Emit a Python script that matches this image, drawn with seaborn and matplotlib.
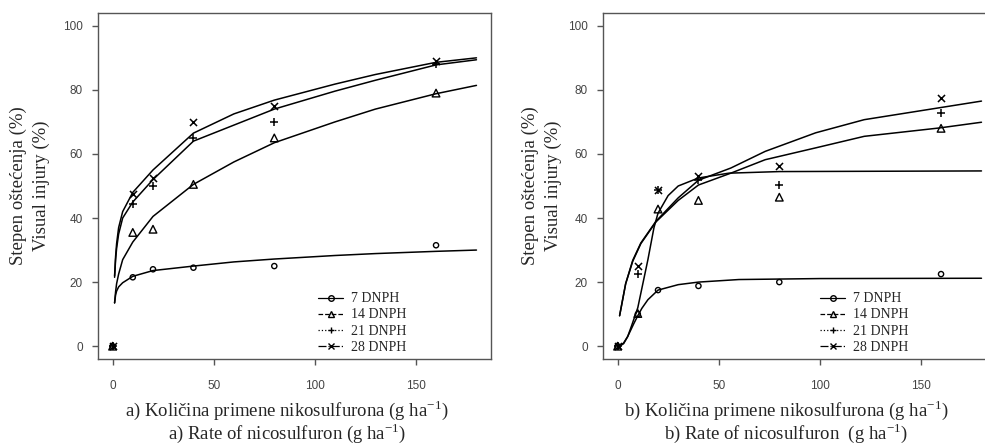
import seaborn as sns
import pandas as pd
import matplotlib.pyplot as plt
from matplotlib.lines import Line2D

sns.set_style('white')
plt.rcParams['font.family'] = ['Liberation Serif', 'DejaVu Serif']
plt.rcParams['mathtext.fontset'] = 'custom'
plt.rcParams['mathtext.rm'] = 'Liberation Serif'

groups = ['7 DNPH', '14 DNPH', '21 DNPH', '28 DNPH']
markers = {'7 DNPH': 'o', '14 DNPH': '^', '21 DNPH': '+', '28 DNPH': 'x'}
msize = {'7 DNPH': 14, '14 DNPH': 30, '21 DNPH': 36, '28 DNPH': 26}
lstyles = {'7 DNPH': '-', '14 DNPH': '--', '21 DNPH': ':', '28 DNPH': '-.'}

dose = [0, 10, 20, 40, 80, 160]

# panel a) observed injury (%)
a_7 = [0, 21.5, 24, 24.5, 25, 31.5]
a_14 = [0, 35.5, 36.5, 50.5, 65, 79]
a_21 = [0, 44.5, 50, 65, 70, 88]
a_28 = [0, 47.5, 52.5, 70, 75, 89]

# panel b) observed injury (%)
b_7 = [0, 10, 17.5, 18.8, 20, 22.5]
b_14 = [0, 10.2, 42.8, 45.5, 46.5, 68]
b_21 = [0, 22.5, 48.8, 52, 50.3, 72.8]
b_28 = [0, 25, 48.8, 53, 56.3, 77.5]

# fitted curves
a_cx = [1, 1.5, 2, 3, 5, 10, 20, 40, 60, 80, 110, 130, 160, 180]
a_c7 = [13.5, 16, 17.2, 18.5, 19.8, 21.8, 23.6, 25, 26.3, 27.2, 28.3, 28.9, 29.6, 30]
a_c14 = [13.5, 17, 19.5, 22.5, 27, 32.5, 40.5, 50.5, 57.5, 63.5, 70, 74, 78.8, 81.4]
a_c21 = [21.5, 27, 30.5, 35, 40, 45, 52, 64, 69, 74, 79.6, 83, 87.8, 89.4]
a_c28 = [22, 28, 32, 37, 42, 48, 55, 66.5, 72.5, 76.8, 81.8, 84.8, 88.6, 90]

b_cx7 = [1, 3, 5, 8, 10, 12, 15, 20, 30, 40, 60, 100, 180]
b_c7 = [0, 1, 3, 7, 9.5, 11.8, 14.5, 17.5, 19.2, 20, 20.8, 21.1, 21.2]
b_cx14 = [1, 3, 5, 7, 10, 12, 15, 18, 20, 25, 30, 40, 55, 80, 180]
b_c14 = [0, 0.8, 3, 6.5, 12, 18, 27, 37, 41.5, 47, 50, 52.5, 54, 54.5, 54.7]
b_cx = [1, 2.5, 4, 7.5, 11.5, 19, 30, 40, 56, 73, 98, 122, 159, 180]
b_c21 = [9.5, 14.5, 19.5, 26.5, 32, 38.8, 45.5, 50.3, 54, 58.2, 61.9, 65.5, 68.1, 69.9]
b_c28 = [9.5, 14.5, 19.5, 26.8, 32.2, 39, 46.3, 51.8, 55.6, 60.8, 66.6, 70.7, 74.4, 76.5]


def long_df(xs, ys):
    rows = []
    for g, x, y in zip(groups, xs, ys):
        rows.append(pd.DataFrame({'x': x, 'y': y, 'group': g}))
    return pd.concat(rows, ignore_index=True)


pts_a = long_df([dose] * 4, [a_7, a_14, a_21, a_28])
pts_b = long_df([dose] * 4, [b_7, b_14, b_21, b_28])
crv_a = long_df([a_cx] * 4, [a_c7, a_c14, a_c21, a_c28])
crv_b = long_df([b_cx7, b_cx14, b_cx, b_cx], [b_c7, b_c14, b_c21, b_c28])

fig = plt.figure(figsize=(9.85, 4.48), dpi=100)
ax_a = fig.add_axes([0.0995, 0.1987, 0.399, 0.7723])
ax_b = fig.add_axes([0.6122, 0.1987, 0.399, 0.7723])


def plot_panel(ax, pts, crv):
    for g in groups:
        d = crv[crv['group'] == g]
        sns.lineplot(data=d, x='x', y='y', ax=ax, color='black', linewidth=1.1,
                     sort=False, estimator=None)
        p = pts[pts['group'] == g]
        if markers[g] in ('o', '^'):
            sns.scatterplot(data=p, x='x', y='y', ax=ax, marker=markers[g], s=msize[g],
                            color='black', facecolor='none', edgecolor='black', linewidth=1.0)
        else:
            sns.scatterplot(data=p, x='x', y='y', ax=ax, marker=markers[g], s=msize[g],
                            color='black', linewidth=1.1)
    ax.set_xlim(-7.2, 187.2)
    ax.set_ylim(-4, 104)
    ax.set_xticks([0, 50, 100, 150])
    ax.set_yticks([0, 20, 40, 60, 80, 100])
    ax.set_xlabel('')
    ax.set_ylabel('')
    ax.tick_params(axis='both', direction='out', length=4.5, width=1, color='#555555',
                   labelcolor='#444444', labelsize=8.5, labelfontfamily='Liberation Sans',
                   left=True, bottom=True)
    ax.tick_params(axis='x', pad=10.5)
    ax.tick_params(axis='y', pad=6.5)
    for sp in ax.spines.values():
        sp.set_color('#555555')
        sp.set_linewidth(1.0)


plot_panel(ax_a, pts_a, crv_a)
plot_panel(ax_b, pts_b, crv_b)

handles = [Line2D([], [], color='black', linestyle=lstyles[g], linewidth=0.9, marker=markers[g],
                  markersize=4, markerfacecolor='none', markeredgecolor='black') for g in groups]
for lx in (318 / 985, 820 / 985):
    fig.legend(handles, groups, loc='center left', bbox_to_anchor=(lx, 1 - 323 / 448),
               frameon=False, fontsize=10, handlelength=1.8, handletextpad=0.55,
               labelspacing=0.22, borderpad=0, borderaxespad=0)

sup = r'$^{\mathregular{-1}}$'
fs = 13.5
xlab_a = 'a) Količina primene nikosulfurona (g ha' + sup + ')\na) Rate of nicosulfuron (g ha' + sup + ')'
xlab_b = 'b) Količina primene nikosulfurona (g ha' + sup + ')\nb) Rate of nicosulfuron  (g ha' + sup + ')'
fig.text(287 / 985, 1 - 422 / 448, xlab_a, ha='center', va='center', fontsize=fs,
         linespacing=0.95, multialignment='center')
fig.text(786 / 985, 1 - 422 / 448, xlab_b, ha='center', va='center', fontsize=fs,
         linespacing=0.95, multialignment='center')

ylab = 'Stepen oštećenja (%)\nVisual injury (%)'
for xc in (29.5 / 985, 542 / 985):
    fig.text(xc, 1 - 186 / 448, ylab, rotation=90, ha='center', va='center', fontsize=fs,
             linespacing=1.45, multialignment='center')

plt.savefig('out.png', dpi=100)
